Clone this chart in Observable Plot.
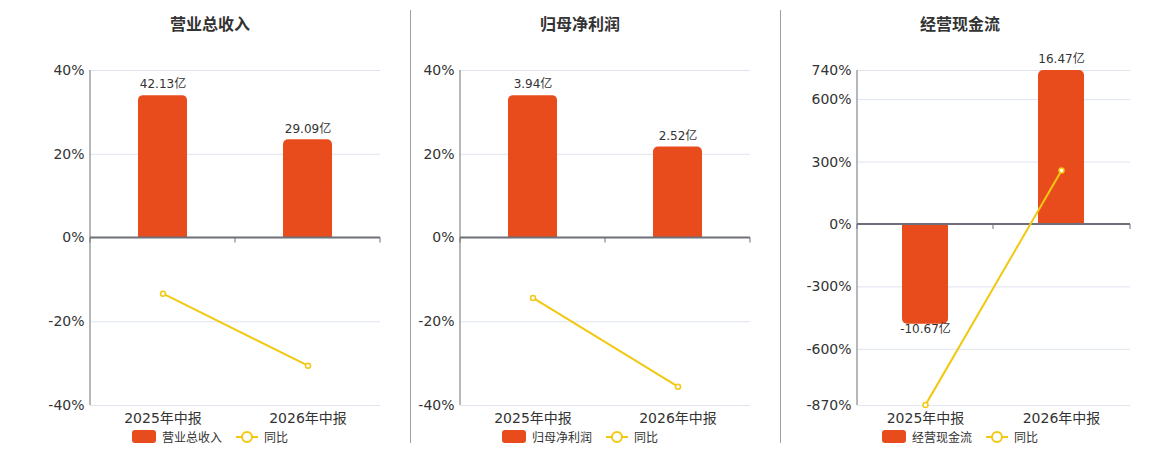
<!DOCTYPE html>
<html><head><meta charset="utf-8">
<script src="https://cdn.jsdelivr.net/npm/d3@7"></script>
<script src="https://cdn.jsdelivr.net/npm/@observablehq/plot@0.6"></script>
<style>
body{margin:0;width:1160px;height:450px;position:relative;background:#fff;overflow:hidden;font-family:"DejaVu Sans","Noto Sans CJK SC",sans-serif;}
.title{position:absolute;top:11px;width:300px;text-align:center;font-size:16px;font-weight:bold;color:#333;font-family:"Noto Sans CJK SC",sans-serif;}
.divider{position:absolute;top:10px;height:433px;width:1px;background:#a0a0a0;}
.legend{position:absolute;top:428px;width:300px;display:flex;justify-content:center;align-items:center;font-size:12px;color:#333;font-family:"Noto Sans CJK SC",sans-serif;}
.sw{width:24px;height:13px;border-radius:3px;background:#e84c1d;margin-right:6px;}
.ls{position:relative;width:22px;height:14px;margin-left:14px;margin-right:6px;}
.ls:before{content:"";position:absolute;left:0;right:0;top:6px;height:2px;background:#f2c811;}
.ls:after{content:"";position:absolute;left:5px;top:1px;width:8px;height:8px;border:2px solid #f2c811;border-radius:50%;background:#fff;}
.pl{position:absolute;top:40px;}
</style>
</head><body>
<script>
const categories = ["2025年中报", "2026年中报"];
const titles = ["营业总收入", "归母净利润", "经营现金流"];
const revenue = [42.13, 29.09];
const revenueYoY = [-13.3, -30.5];
const profit = [3.94, 2.52];
const profitYoY = [-14.3, -35.5];
const cashflow = [-10.67, 16.47];
const cashflowYoY = [-867, 259];
const pctTicks = [40, 20, 0, -20, -40];
const cashTicks = [740, 600, 300, 0, -300, -600, -870];
const barReach = [0.85, 0.85, 1.0];

const barSeries = [revenue, profit, cashflow];
const yoySeries = [revenueYoY, profitYoY, cashflowYoY];
const tickSets = [pctTicks, pctTicks, cashTicks];

const svgLeft = [0, 410, 780];
const svgWidth = [400, 360, 370];
const svgML = [90, 50, 77];
const centers = [210, 580, 960];

const BAR = "#e84c1d", LINE = "#f2c811", AX = "#6e7079";

for (const x of [410, 780]) {
  const d = document.createElement("div"); d.className = "divider"; d.style.left = x + "px";
  document.body.appendChild(d);
}

titles.forEach((t, i) => {
  const vals = barSeries[i], yoy = yoySeries[i], ticks = tickSets[i];
  const axisMax = d3.max(ticks), axisMin = d3.min(ticks);
  const k = barReach[i] * axisMax / d3.max(vals, Math.abs);
  const rows = categories.map((c, j) => ({cat: c, v: vals[j], bar: vals[j] * k, half: vals[j] * k / 2, yoy: yoy[j]}));
  const pos = rows.filter(d => d.bar >= 0), neg = rows.filter(d => d.bar < 0);
  const lab = d => d.v.toFixed(2) + "亿";

  const axisMark = (index, scales, values, dims) => {
    const g = d3.create("svg:g");
    const x = scales.x;
    const bw = typeof x.bandwidth === "function" ? x.bandwidth() : (x.bandwidth || 0);
    const c = categories.map(d => x(d) + bw / 2);
    const y0 = scales.y(0);
    const left = dims.marginLeft, right = dims.width - dims.marginRight;
    g.append("line").attr("x1", left).attr("x2", left)
      .attr("y1", dims.marginTop).attr("y2", dims.height - dims.marginBottom)
      .attr("stroke", AX).attr("stroke-width", 1);
    g.append("line").attr("x1", left).attr("x2", right).attr("y1", y0).attr("y2", y0)
      .attr("stroke", AX).attr("stroke-width", 2);
    for (const e of [left, (c[0] + c[1]) / 2, right]) {
      g.append("line").attr("x1", e).attr("x2", e).attr("y1", y0).attr("y2", y0 + 5)
        .attr("stroke", AX).attr("stroke-width", 1);
    }
    return g.node();
  };

  const plot = Plot.plot({
    width: svgWidth[i], height: 390,
    marginLeft: svgML[i], marginRight: 20, marginTop: 30, marginBottom: 25,
    style: {fontFamily: "DejaVu Sans, Noto Sans CJK SC, sans-serif", fontSize: "14px", color: "#333", background: "transparent", overflow: "visible"},
    x: {type: "band", domain: categories, paddingInner: 0.66, paddingOuter: 0.33},
    y: {domain: [axisMin, axisMax]},
    marks: [
      Plot.gridY(ticks.filter(v => v !== 0), {stroke: "#dfe4ef", strokeOpacity: 1}),
      Plot.barY(rows, {x: "cat", y: "bar", fill: BAR, rx: 5}),
      Plot.barY(rows, {x: "cat", y: "half", fill: BAR}),
      axisMark,
      Plot.axisY(ticks, {tickSize: 0, tickPadding: 6, tickFormat: d => d + "%", label: null, fontSize: 14, fill: "#333"}),
      Plot.axisX({tickSize: 0, tickPadding: 8, label: null, fontSize: 14, fill: "#333"}),
      Plot.text(pos, {x: "cat", y: "bar", text: lab, dy: -11, fontSize: 12, fill: "#333"}),
      Plot.text(neg, {x: "cat", y: "bar", text: lab, dy: 5, fontSize: 12, fill: "#333"}),
      Plot.line(rows, {x: "cat", y: "yoy", stroke: LINE, strokeWidth: 2}),
      Plot.dot(rows, {x: "cat", y: "yoy", r: 2.5, fill: "#fff", stroke: LINE, strokeWidth: 1.5})
    ]
  });
  const wrap = document.createElement("div");
  wrap.className = "pl"; wrap.style.left = svgLeft[i] + "px";
  wrap.appendChild(plot);
  document.body.appendChild(wrap);

  const tt = document.createElement("div");
  tt.className = "title"; tt.style.left = (centers[i] - 150) + "px"; tt.textContent = t;
  document.body.appendChild(tt);

  const lg = document.createElement("div");
  lg.className = "legend"; lg.style.left = (centers[i] - 150) + "px";
  lg.innerHTML = `<span class="sw"></span><span>${t}</span><span class="ls"></span><span>同比</span>`;
  document.body.appendChild(lg);
});
</script>
</body></html>
